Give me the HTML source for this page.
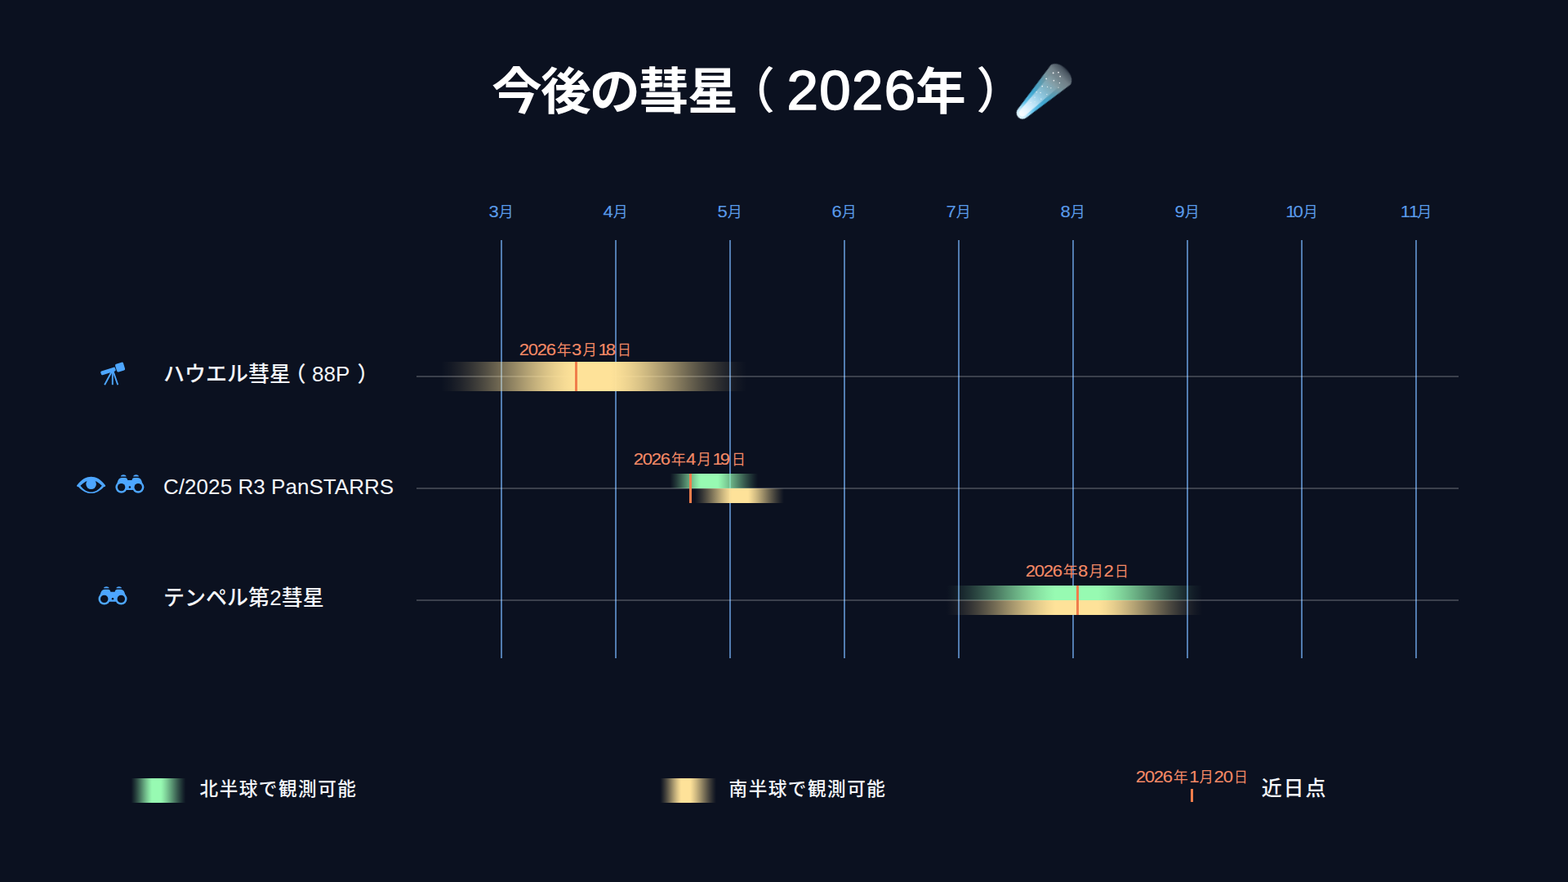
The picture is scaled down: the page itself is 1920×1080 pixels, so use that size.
<!DOCTYPE html>
<html lang="ja"><head><meta charset="utf-8"><title>今後の彗星（2026年）</title>
<style>
html,body{margin:0;padding:0;background:#0b1120}
body{width:1920px;height:1080px;overflow:hidden;font-family:"Liberation Sans","Noto Sans CJK JP",sans-serif}
svg{display:block;position:absolute;left:0;top:0}
text{font-family:"Liberation Sans","Noto Sans CJK JP",sans-serif;white-space:pre}
</style></head>
<body>
<svg width="1920" height="1080" viewBox="0 0 1920 1080">
<defs>
<linearGradient id="b1" gradientUnits="userSpaceOnUse" x1="540" y1="0" x2="914" y2="0"><stop offset="0.0000" stop-color="#fee299" stop-opacity="0.000"/><stop offset="0.0311" stop-color="#fee299" stop-opacity="0.034"/><stop offset="0.0623" stop-color="#fee299" stop-opacity="0.086"/><stop offset="0.0934" stop-color="#fee299" stop-opacity="0.152"/><stop offset="0.1245" stop-color="#fee299" stop-opacity="0.229"/><stop offset="0.1557" stop-color="#fee299" stop-opacity="0.315"/><stop offset="0.1868" stop-color="#fee299" stop-opacity="0.406"/><stop offset="0.2179" stop-color="#fee299" stop-opacity="0.500"/><stop offset="0.2490" stop-color="#fee299" stop-opacity="0.594"/><stop offset="0.2802" stop-color="#fee299" stop-opacity="0.685"/><stop offset="0.3113" stop-color="#fee299" stop-opacity="0.771"/><stop offset="0.3424" stop-color="#fee299" stop-opacity="0.848"/><stop offset="0.3736" stop-color="#fee299" stop-opacity="0.914"/><stop offset="0.4047" stop-color="#fee299" stop-opacity="0.966"/><stop offset="0.4358" stop-color="#fee299" stop-opacity="1.000"/><stop offset="0.5561" stop-color="#fee299" stop-opacity="1.000"/><stop offset="0.5879" stop-color="#fee299" stop-opacity="0.966"/><stop offset="0.6196" stop-color="#fee299" stop-opacity="0.914"/><stop offset="0.6513" stop-color="#fee299" stop-opacity="0.848"/><stop offset="0.6830" stop-color="#fee299" stop-opacity="0.771"/><stop offset="0.7147" stop-color="#fee299" stop-opacity="0.685"/><stop offset="0.7464" stop-color="#fee299" stop-opacity="0.594"/><stop offset="0.7781" stop-color="#fee299" stop-opacity="0.500"/><stop offset="0.8098" stop-color="#fee299" stop-opacity="0.406"/><stop offset="0.8415" stop-color="#fee299" stop-opacity="0.315"/><stop offset="0.8732" stop-color="#fee299" stop-opacity="0.229"/><stop offset="0.9049" stop-color="#fee299" stop-opacity="0.152"/><stop offset="0.9366" stop-color="#fee299" stop-opacity="0.086"/><stop offset="0.9683" stop-color="#fee299" stop-opacity="0.034"/><stop offset="1.0000" stop-color="#fee299" stop-opacity="0.000"/></linearGradient>
<linearGradient id="b2g" gradientUnits="userSpaceOnUse" x1="820.5" y1="0" x2="928" y2="0"><stop offset="0.0000" stop-color="#97fab2" stop-opacity="0.000"/><stop offset="0.0249" stop-color="#97fab2" stop-opacity="0.054"/><stop offset="0.0498" stop-color="#97fab2" stop-opacity="0.117"/><stop offset="0.0748" stop-color="#97fab2" stop-opacity="0.185"/><stop offset="0.0997" stop-color="#97fab2" stop-opacity="0.259"/><stop offset="0.1246" stop-color="#97fab2" stop-opacity="0.337"/><stop offset="0.1495" stop-color="#97fab2" stop-opacity="0.418"/><stop offset="0.1744" stop-color="#97fab2" stop-opacity="0.500"/><stop offset="0.1993" stop-color="#97fab2" stop-opacity="0.582"/><stop offset="0.2243" stop-color="#97fab2" stop-opacity="0.663"/><stop offset="0.2492" stop-color="#97fab2" stop-opacity="0.741"/><stop offset="0.2741" stop-color="#97fab2" stop-opacity="0.815"/><stop offset="0.2990" stop-color="#97fab2" stop-opacity="0.883"/><stop offset="0.3239" stop-color="#97fab2" stop-opacity="0.946"/><stop offset="0.3488" stop-color="#97fab2" stop-opacity="1.000"/><stop offset="0.5442" stop-color="#97fab2" stop-opacity="1.000"/><stop offset="0.5767" stop-color="#97fab2" stop-opacity="0.946"/><stop offset="0.6093" stop-color="#97fab2" stop-opacity="0.883"/><stop offset="0.6419" stop-color="#97fab2" stop-opacity="0.815"/><stop offset="0.6744" stop-color="#97fab2" stop-opacity="0.741"/><stop offset="0.7070" stop-color="#97fab2" stop-opacity="0.663"/><stop offset="0.7395" stop-color="#97fab2" stop-opacity="0.582"/><stop offset="0.7721" stop-color="#97fab2" stop-opacity="0.500"/><stop offset="0.8047" stop-color="#97fab2" stop-opacity="0.418"/><stop offset="0.8372" stop-color="#97fab2" stop-opacity="0.337"/><stop offset="0.8698" stop-color="#97fab2" stop-opacity="0.259"/><stop offset="0.9023" stop-color="#97fab2" stop-opacity="0.185"/><stop offset="0.9349" stop-color="#97fab2" stop-opacity="0.117"/><stop offset="0.9674" stop-color="#97fab2" stop-opacity="0.054"/><stop offset="1.0000" stop-color="#97fab2" stop-opacity="0.000"/></linearGradient>
<linearGradient id="b2y" gradientUnits="userSpaceOnUse" x1="850.5" y1="0" x2="960" y2="0"><stop offset="0.0000" stop-color="#fee299" stop-opacity="0.000"/><stop offset="0.0297" stop-color="#fee299" stop-opacity="0.054"/><stop offset="0.0594" stop-color="#fee299" stop-opacity="0.117"/><stop offset="0.0890" stop-color="#fee299" stop-opacity="0.185"/><stop offset="0.1187" stop-color="#fee299" stop-opacity="0.259"/><stop offset="0.1484" stop-color="#fee299" stop-opacity="0.337"/><stop offset="0.1781" stop-color="#fee299" stop-opacity="0.418"/><stop offset="0.2078" stop-color="#fee299" stop-opacity="0.500"/><stop offset="0.2374" stop-color="#fee299" stop-opacity="0.582"/><stop offset="0.2671" stop-color="#fee299" stop-opacity="0.663"/><stop offset="0.2968" stop-color="#fee299" stop-opacity="0.741"/><stop offset="0.3265" stop-color="#fee299" stop-opacity="0.815"/><stop offset="0.3562" stop-color="#fee299" stop-opacity="0.883"/><stop offset="0.3858" stop-color="#fee299" stop-opacity="0.946"/><stop offset="0.4155" stop-color="#fee299" stop-opacity="1.000"/><stop offset="0.5982" stop-color="#fee299" stop-opacity="1.000"/><stop offset="0.6269" stop-color="#fee299" stop-opacity="0.946"/><stop offset="0.6556" stop-color="#fee299" stop-opacity="0.883"/><stop offset="0.6843" stop-color="#fee299" stop-opacity="0.815"/><stop offset="0.7130" stop-color="#fee299" stop-opacity="0.741"/><stop offset="0.7417" stop-color="#fee299" stop-opacity="0.663"/><stop offset="0.7704" stop-color="#fee299" stop-opacity="0.582"/><stop offset="0.7991" stop-color="#fee299" stop-opacity="0.500"/><stop offset="0.8278" stop-color="#fee299" stop-opacity="0.418"/><stop offset="0.8565" stop-color="#fee299" stop-opacity="0.337"/><stop offset="0.8852" stop-color="#fee299" stop-opacity="0.259"/><stop offset="0.9139" stop-color="#fee299" stop-opacity="0.185"/><stop offset="0.9426" stop-color="#fee299" stop-opacity="0.117"/><stop offset="0.9713" stop-color="#fee299" stop-opacity="0.054"/><stop offset="1.0000" stop-color="#fee299" stop-opacity="0.000"/></linearGradient>
<linearGradient id="b3g" gradientUnits="userSpaceOnUse" x1="1159" y1="0" x2="1472" y2="0"><stop offset="0.0000" stop-color="#97fab2" stop-opacity="0.000"/><stop offset="0.0304" stop-color="#97fab2" stop-opacity="0.040"/><stop offset="0.0607" stop-color="#97fab2" stop-opacity="0.095"/><stop offset="0.0911" stop-color="#97fab2" stop-opacity="0.161"/><stop offset="0.1214" stop-color="#97fab2" stop-opacity="0.238"/><stop offset="0.1518" stop-color="#97fab2" stop-opacity="0.321"/><stop offset="0.1821" stop-color="#97fab2" stop-opacity="0.409"/><stop offset="0.2125" stop-color="#97fab2" stop-opacity="0.500"/><stop offset="0.2428" stop-color="#97fab2" stop-opacity="0.591"/><stop offset="0.2732" stop-color="#97fab2" stop-opacity="0.679"/><stop offset="0.3035" stop-color="#97fab2" stop-opacity="0.762"/><stop offset="0.3339" stop-color="#97fab2" stop-opacity="0.839"/><stop offset="0.3642" stop-color="#97fab2" stop-opacity="0.905"/><stop offset="0.3946" stop-color="#97fab2" stop-opacity="0.960"/><stop offset="0.4249" stop-color="#97fab2" stop-opacity="1.000"/><stop offset="0.5942" stop-color="#97fab2" stop-opacity="1.000"/><stop offset="0.6232" stop-color="#97fab2" stop-opacity="0.960"/><stop offset="0.6522" stop-color="#97fab2" stop-opacity="0.905"/><stop offset="0.6812" stop-color="#97fab2" stop-opacity="0.839"/><stop offset="0.7102" stop-color="#97fab2" stop-opacity="0.762"/><stop offset="0.7392" stop-color="#97fab2" stop-opacity="0.679"/><stop offset="0.7681" stop-color="#97fab2" stop-opacity="0.591"/><stop offset="0.7971" stop-color="#97fab2" stop-opacity="0.500"/><stop offset="0.8261" stop-color="#97fab2" stop-opacity="0.409"/><stop offset="0.8551" stop-color="#97fab2" stop-opacity="0.321"/><stop offset="0.8841" stop-color="#97fab2" stop-opacity="0.238"/><stop offset="0.9131" stop-color="#97fab2" stop-opacity="0.161"/><stop offset="0.9420" stop-color="#97fab2" stop-opacity="0.095"/><stop offset="0.9710" stop-color="#97fab2" stop-opacity="0.040"/><stop offset="1.0000" stop-color="#97fab2" stop-opacity="0.000"/></linearGradient>
<linearGradient id="b3y" gradientUnits="userSpaceOnUse" x1="1159" y1="0" x2="1472" y2="0"><stop offset="0.0000" stop-color="#fee299" stop-opacity="0.000"/><stop offset="0.0304" stop-color="#fee299" stop-opacity="0.040"/><stop offset="0.0607" stop-color="#fee299" stop-opacity="0.095"/><stop offset="0.0911" stop-color="#fee299" stop-opacity="0.161"/><stop offset="0.1214" stop-color="#fee299" stop-opacity="0.238"/><stop offset="0.1518" stop-color="#fee299" stop-opacity="0.321"/><stop offset="0.1821" stop-color="#fee299" stop-opacity="0.409"/><stop offset="0.2125" stop-color="#fee299" stop-opacity="0.500"/><stop offset="0.2428" stop-color="#fee299" stop-opacity="0.591"/><stop offset="0.2732" stop-color="#fee299" stop-opacity="0.679"/><stop offset="0.3035" stop-color="#fee299" stop-opacity="0.762"/><stop offset="0.3339" stop-color="#fee299" stop-opacity="0.839"/><stop offset="0.3642" stop-color="#fee299" stop-opacity="0.905"/><stop offset="0.3946" stop-color="#fee299" stop-opacity="0.960"/><stop offset="0.4249" stop-color="#fee299" stop-opacity="1.000"/><stop offset="0.5942" stop-color="#fee299" stop-opacity="1.000"/><stop offset="0.6232" stop-color="#fee299" stop-opacity="0.960"/><stop offset="0.6522" stop-color="#fee299" stop-opacity="0.905"/><stop offset="0.6812" stop-color="#fee299" stop-opacity="0.839"/><stop offset="0.7102" stop-color="#fee299" stop-opacity="0.762"/><stop offset="0.7392" stop-color="#fee299" stop-opacity="0.679"/><stop offset="0.7681" stop-color="#fee299" stop-opacity="0.591"/><stop offset="0.7971" stop-color="#fee299" stop-opacity="0.500"/><stop offset="0.8261" stop-color="#fee299" stop-opacity="0.409"/><stop offset="0.8551" stop-color="#fee299" stop-opacity="0.321"/><stop offset="0.8841" stop-color="#fee299" stop-opacity="0.238"/><stop offset="0.9131" stop-color="#fee299" stop-opacity="0.161"/><stop offset="0.9420" stop-color="#fee299" stop-opacity="0.095"/><stop offset="0.9710" stop-color="#fee299" stop-opacity="0.040"/><stop offset="1.0000" stop-color="#fee299" stop-opacity="0.000"/></linearGradient>
<linearGradient id="lg" gradientUnits="userSpaceOnUse" x1="160.5" y1="0" x2="227.5" y2="0"><stop offset="0.0000" stop-color="#97fab2" stop-opacity="0.000"/><stop offset="0.0272" stop-color="#97fab2" stop-opacity="0.054"/><stop offset="0.0544" stop-color="#97fab2" stop-opacity="0.117"/><stop offset="0.0816" stop-color="#97fab2" stop-opacity="0.185"/><stop offset="0.1087" stop-color="#97fab2" stop-opacity="0.259"/><stop offset="0.1359" stop-color="#97fab2" stop-opacity="0.337"/><stop offset="0.1631" stop-color="#97fab2" stop-opacity="0.418"/><stop offset="0.1903" stop-color="#97fab2" stop-opacity="0.500"/><stop offset="0.2175" stop-color="#97fab2" stop-opacity="0.582"/><stop offset="0.2447" stop-color="#97fab2" stop-opacity="0.663"/><stop offset="0.2719" stop-color="#97fab2" stop-opacity="0.741"/><stop offset="0.2990" stop-color="#97fab2" stop-opacity="0.815"/><stop offset="0.3262" stop-color="#97fab2" stop-opacity="0.883"/><stop offset="0.3534" stop-color="#97fab2" stop-opacity="0.946"/><stop offset="0.3806" stop-color="#97fab2" stop-opacity="1.000"/><stop offset="0.5448" stop-color="#97fab2" stop-opacity="1.000"/><stop offset="0.5773" stop-color="#97fab2" stop-opacity="0.946"/><stop offset="0.6098" stop-color="#97fab2" stop-opacity="0.883"/><stop offset="0.6423" stop-color="#97fab2" stop-opacity="0.815"/><stop offset="0.6748" stop-color="#97fab2" stop-opacity="0.741"/><stop offset="0.7074" stop-color="#97fab2" stop-opacity="0.663"/><stop offset="0.7399" stop-color="#97fab2" stop-opacity="0.582"/><stop offset="0.7724" stop-color="#97fab2" stop-opacity="0.500"/><stop offset="0.8049" stop-color="#97fab2" stop-opacity="0.418"/><stop offset="0.8374" stop-color="#97fab2" stop-opacity="0.337"/><stop offset="0.8699" stop-color="#97fab2" stop-opacity="0.259"/><stop offset="0.9025" stop-color="#97fab2" stop-opacity="0.185"/><stop offset="0.9350" stop-color="#97fab2" stop-opacity="0.117"/><stop offset="0.9675" stop-color="#97fab2" stop-opacity="0.054"/><stop offset="1.0000" stop-color="#97fab2" stop-opacity="0.000"/></linearGradient>
<linearGradient id="ly" gradientUnits="userSpaceOnUse" x1="808.5" y1="0" x2="877" y2="0"><stop offset="0.0000" stop-color="#fee299" stop-opacity="0.000"/><stop offset="0.0266" stop-color="#fee299" stop-opacity="0.054"/><stop offset="0.0532" stop-color="#fee299" stop-opacity="0.117"/><stop offset="0.0798" stop-color="#fee299" stop-opacity="0.185"/><stop offset="0.1064" stop-color="#fee299" stop-opacity="0.259"/><stop offset="0.1330" stop-color="#fee299" stop-opacity="0.337"/><stop offset="0.1595" stop-color="#fee299" stop-opacity="0.418"/><stop offset="0.1861" stop-color="#fee299" stop-opacity="0.500"/><stop offset="0.2127" stop-color="#fee299" stop-opacity="0.582"/><stop offset="0.2393" stop-color="#fee299" stop-opacity="0.663"/><stop offset="0.2659" stop-color="#fee299" stop-opacity="0.741"/><stop offset="0.2925" stop-color="#fee299" stop-opacity="0.815"/><stop offset="0.3191" stop-color="#fee299" stop-opacity="0.883"/><stop offset="0.3457" stop-color="#fee299" stop-opacity="0.946"/><stop offset="0.3723" stop-color="#fee299" stop-opacity="1.000"/><stop offset="0.5328" stop-color="#fee299" stop-opacity="1.000"/><stop offset="0.5662" stop-color="#fee299" stop-opacity="0.946"/><stop offset="0.5996" stop-color="#fee299" stop-opacity="0.883"/><stop offset="0.6330" stop-color="#fee299" stop-opacity="0.815"/><stop offset="0.6663" stop-color="#fee299" stop-opacity="0.741"/><stop offset="0.6997" stop-color="#fee299" stop-opacity="0.663"/><stop offset="0.7331" stop-color="#fee299" stop-opacity="0.582"/><stop offset="0.7664" stop-color="#fee299" stop-opacity="0.500"/><stop offset="0.7998" stop-color="#fee299" stop-opacity="0.418"/><stop offset="0.8332" stop-color="#fee299" stop-opacity="0.337"/><stop offset="0.8665" stop-color="#fee299" stop-opacity="0.259"/><stop offset="0.8999" stop-color="#fee299" stop-opacity="0.185"/><stop offset="0.9333" stop-color="#fee299" stop-opacity="0.117"/><stop offset="0.9666" stop-color="#fee299" stop-opacity="0.054"/><stop offset="1.0000" stop-color="#fee299" stop-opacity="0.000"/></linearGradient>

<linearGradient id="cmt" gradientUnits="userSpaceOnUse" x1="-8" y1="0" x2="78" y2="0">
<stop offset="0" stop-color="#eaf8ff"/><stop offset="0.10" stop-color="#bfe9fb"/><stop offset="0.22" stop-color="#66c6ee"/>
<stop offset="0.40" stop-color="#46a9d0"/><stop offset="0.56" stop-color="#5f9db0"/>
<stop offset="0.70" stop-color="#7a949c"/><stop offset="0.84" stop-color="#76858d" stop-opacity="0.95"/><stop offset="0.94" stop-color="#5a6772" stop-opacity="0.8"/><stop offset="1" stop-color="#3a4552" stop-opacity="0.3"/>
</linearGradient>
<linearGradient id="cmt2" gradientUnits="userSpaceOnUse" x1="-6" y1="0" x2="60" y2="0">
<stop offset="0" stop-color="#ffffff" stop-opacity="1"/><stop offset="0.3" stop-color="#e6f4ff" stop-opacity="0.8"/>
<stop offset="0.7" stop-color="#cfe6f5" stop-opacity="0.3"/><stop offset="1" stop-color="#cfe6f5" stop-opacity="0"/>
</linearGradient>
<linearGradient id="cmt3" gradientUnits="userSpaceOnUse" x1="0" y1="-18" x2="0" y2="18">
<stop offset="0" stop-color="#1fa0dc" stop-opacity="0.6"/><stop offset="0.32" stop-color="#1fa0dc" stop-opacity="0"/>
<stop offset="0.68" stop-color="#1fa0dc" stop-opacity="0"/><stop offset="1" stop-color="#1fa0dc" stop-opacity="0.6"/>
</linearGradient>
<linearGradient id="cmf" gradientUnits="userSpaceOnUse" x1="-8" y1="0" x2="78" y2="0">
<stop offset="0" stop-color="#fff"/><stop offset="0.45" stop-color="#fff"/><stop offset="0.75" stop-color="#000"/><stop offset="1" stop-color="#000"/>
</linearGradient>
<mask id="cmm" maskUnits="userSpaceOnUse" x="-12" y="-24" width="100" height="48"><rect x="-12" y="-24" width="100" height="48" fill="url(#cmf)"/></mask>
<filter id="cblur" x="-20%" y="-20%" width="140%" height="140%"><feGaussianBlur stdDeviation="0.6"/></filter>

</defs>
<rect width="1920" height="1080" fill="#0b1120"/>
<g id="grid">
<rect x="613" y="294" width="2" height="512" fill="#527cb0"/>
<rect x="753" y="294" width="2" height="512" fill="#527cb0"/>
<rect x="893" y="294" width="2" height="512" fill="#527cb0"/>
<rect x="1033" y="294" width="2" height="512" fill="#527cb0"/>
<rect x="1173" y="294" width="2" height="512" fill="#527cb0"/>
<rect x="1313" y="294" width="2" height="512" fill="#527cb0"/>
<rect x="1453" y="294" width="2" height="512" fill="#527cb0"/>
<rect x="1593" y="294" width="2" height="512" fill="#527cb0"/>
<rect x="1733" y="294" width="2" height="512" fill="#527cb0"/>
<rect x="510" y="460" width="1276" height="2" fill="#fff" fill-opacity="0.2"/>
<rect x="510" y="597" width="1276" height="2" fill="#fff" fill-opacity="0.2"/>
<rect x="510" y="734" width="1276" height="2" fill="#fff" fill-opacity="0.2"/>
</g>
<g id="bars">
<rect x="540" y="443" width="374" height="36" fill="url(#b1)"/>
<rect x="820.5" y="580" width="107.5" height="18" fill="url(#b2g)"/>
<rect x="850.5" y="598" width="109.5" height="18" fill="url(#b2y)"/>
<rect x="1159" y="717" width="313" height="18" fill="url(#b3g)"/>
<rect x="1159" y="735" width="313" height="18" fill="url(#b3y)"/>
</g>
<g id="peri" fill="#f07d4b">
<rect x="704" y="443" width="3" height="36"/>
<rect x="844" y="580" width="3" height="36"/>
<rect x="1318" y="717" width="3" height="36"/>
</g>
<text x="602.10" y="133.88" font-size="61.8" font-weight="700" letter-spacing="-1.8" fill="#ffffff">今後の彗星</text>
<text x="889.03" y="133.20" font-size="60" font-weight="500" fill="#ffffff">（</text>
<text x="963.50" y="133.90" font-size="69.00" fill="#ffffff" stroke="#ffffff" stroke-width="1.70" stroke-linejoin="round" letter-spacing="1.40">2026</text>
<text x="1120.90" y="133.88" font-size="61.8" font-weight="700" fill="#ffffff">年</text>
<text x="1195.27" y="133.20" font-size="60" font-weight="500" fill="#ffffff">）</text>
<text transform="translate(598.60 265.60) scale(1.1000 1)" x="0.00" font-size="20.00" fill="#5a9bea" stroke="#5a9bea" stroke-width="0.12" stroke-linejoin="round">3</text>
<text x="610.68" y="265.60" font-size="18" fill="#5a9bea">月</text>
<text transform="translate(738.60 265.60) scale(1.1000 1)" x="0.00" font-size="20.00" fill="#5a9bea" stroke="#5a9bea" stroke-width="0.12" stroke-linejoin="round">4</text>
<text x="750.68" y="265.60" font-size="18" fill="#5a9bea">月</text>
<text transform="translate(878.55 265.60) scale(1.1000 1)" x="0.00" font-size="20.00" fill="#5a9bea" stroke="#5a9bea" stroke-width="0.12" stroke-linejoin="round">5</text>
<text x="890.68" y="265.60" font-size="18" fill="#5a9bea">月</text>
<text transform="translate(1018.46 265.60) scale(1.1000 1)" x="0.00" font-size="20.00" fill="#5a9bea" stroke="#5a9bea" stroke-width="0.12" stroke-linejoin="round">6</text>
<text x="1030.68" y="265.60" font-size="18" fill="#5a9bea">月</text>
<text transform="translate(1158.52 265.60) scale(1.1000 1)" x="0.00" font-size="20.00" fill="#5a9bea" stroke="#5a9bea" stroke-width="0.12" stroke-linejoin="round">7</text>
<text x="1170.68" y="265.60" font-size="18" fill="#5a9bea">月</text>
<text transform="translate(1298.53 265.60) scale(1.1000 1)" x="0.00" font-size="20.00" fill="#5a9bea" stroke="#5a9bea" stroke-width="0.12" stroke-linejoin="round">8</text>
<text x="1310.68" y="265.60" font-size="18" fill="#5a9bea">月</text>
<text transform="translate(1438.54 265.60) scale(1.1000 1)" x="0.00" font-size="20.00" fill="#5a9bea" stroke="#5a9bea" stroke-width="0.12" stroke-linejoin="round">9</text>
<text x="1450.68" y="265.60" font-size="18" fill="#5a9bea">月</text>
<text transform="translate(1574.32 265.60) scale(1.1000 1)" x="0.00 8.42" font-size="20.00" fill="#5a9bea" stroke="#5a9bea" stroke-width="0.12" stroke-linejoin="round">10</text>
<text x="1595.73" y="265.60" font-size="18" fill="#5a9bea">月</text>
<text transform="translate(1714.80 265.60) scale(1.1000 1)" x="0.00 9.18" font-size="20.00" fill="#5a9bea" stroke="#5a9bea" stroke-width="0.12" stroke-linejoin="round">11</text>
<text x="1735.25" y="265.60" font-size="18" fill="#5a9bea">月</text>
<text transform="translate(635.72 434.60) scale(1.1000 1)" x="0.00 10.06 20.13 30.12" font-size="20.00" fill="#f58a66" stroke="#f58a66" stroke-width="0.12" stroke-linejoin="round">2026</text>
<text x="681.87" y="434.60" font-size="18" fill="#f58a66">年</text>
<text transform="translate(700.05 434.60) scale(1.1000 1)" x="0.00" font-size="20.00" fill="#f58a66" stroke="#f58a66" stroke-width="0.12" stroke-linejoin="round">3</text>
<text transform="translate(713.52 434.60) scale(0.96 1)" x="0" y="0" font-size="18" fill="#f58a66">月</text>
<text transform="translate(732.45 434.60) scale(1.1000 1)" x="0.00 8.42" font-size="20.00" fill="#f58a66" stroke="#f58a66" stroke-width="0.12" stroke-linejoin="round">18</text>
<text transform="translate(756.01 434.60) scale(0.93 1)" x="0" y="0" font-size="18" fill="#f58a66">日</text>
<text transform="translate(775.72 568.60) scale(1.1000 1)" x="0.00 10.06 20.13 30.12" font-size="20.00" fill="#f58a66" stroke="#f58a66" stroke-width="0.12" stroke-linejoin="round">2026</text>
<text x="821.87" y="568.60" font-size="18" fill="#f58a66">年</text>
<text transform="translate(840.05 568.60) scale(1.1000 1)" x="0.00" font-size="20.00" fill="#f58a66" stroke="#f58a66" stroke-width="0.12" stroke-linejoin="round">4</text>
<text transform="translate(853.52 568.60) scale(0.96 1)" x="0" y="0" font-size="18" fill="#f58a66">月</text>
<text transform="translate(872.45 568.60) scale(1.1000 1)" x="0.00 8.43" font-size="20.00" fill="#f58a66" stroke="#f58a66" stroke-width="0.12" stroke-linejoin="round">19</text>
<text transform="translate(896.01 568.60) scale(0.93 1)" x="0" y="0" font-size="18" fill="#f58a66">日</text>
<text transform="translate(1255.72 706.00) scale(1.1000 1)" x="0.00 10.06 20.13 30.12" font-size="20.00" fill="#f58a66" stroke="#f58a66" stroke-width="0.12" stroke-linejoin="round">2026</text>
<text x="1301.87" y="706.00" font-size="18" fill="#f58a66">年</text>
<text transform="translate(1319.98 706.00) scale(1.1000 1)" x="0.00" font-size="20.00" fill="#f58a66" stroke="#f58a66" stroke-width="0.12" stroke-linejoin="round">8</text>
<text transform="translate(1333.52 706.00) scale(0.96 1)" x="0" y="0" font-size="18" fill="#f58a66">月</text>
<text transform="translate(1351.62 706.00) scale(1.1000 1)" x="0.00" font-size="20.00" fill="#f58a66" stroke="#f58a66" stroke-width="0.12" stroke-linejoin="round">2</text>
<text transform="translate(1365.11 706.00) scale(0.93 1)" x="0" y="0" font-size="18" fill="#f58a66">日</text>
<text transform="translate(1390.72 957.90) scale(1.1000 1)" x="0.00 10.06 20.13 30.12" font-size="20.00" fill="#f58a66" stroke="#f58a66" stroke-width="0.12" stroke-linejoin="round">2026</text>
<text x="1436.87" y="957.90" font-size="18" fill="#f58a66">年</text>
<text transform="translate(1456.30 957.90) scale(1.1000 1)" x="0.00" font-size="20.00" fill="#f58a66" stroke="#f58a66" stroke-width="0.12" stroke-linejoin="round">1</text>
<text transform="translate(1468.52 957.90) scale(0.96 1)" x="0" y="0" font-size="18" fill="#f58a66">月</text>
<text transform="translate(1486.62 957.90) scale(1.1000 1)" x="0.00 10.06" font-size="20.00" fill="#f58a66" stroke="#f58a66" stroke-width="0.12" stroke-linejoin="round">20</text>
<text transform="translate(1511.01 957.90) scale(0.93 1)" x="0" y="0" font-size="18" fill="#f58a66">日</text>
<text x="200.00" y="466.90" font-size="26" font-weight="500" fill="#f4f6fa">ハウエル彗星</text>
<text x="348.46" y="466.90" font-size="26" font-weight="500" fill="#f4f6fa">（</text>
<text x="382.00" y="467.00" font-size="26.00" fill="#f4f6fa">88P</text>
<text x="437.44" y="466.90" font-size="26" font-weight="500" fill="#f4f6fa">）</text>
<text x="200.00" y="604.60" font-size="26.00" fill="#f4f6fa" letter-spacing="0.05">C/2025 R3 PanSTARRS</text>
<text x="200.00" y="740.90" font-size="26" font-weight="500" fill="#f4f6fa">テンペル第</text>
<text x="330.30" y="741.00" font-size="26.00" fill="#f4f6fa">2</text>
<text x="344.76" y="740.90" font-size="26" font-weight="500" fill="#f4f6fa">彗星</text>
<rect x="160.5" y="953" width="67" height="30" fill="url(#lg)"/>
<rect x="808.5" y="953" width="68.5" height="30" fill="url(#ly)"/>
<text x="244.60" y="974.10" font-size="22.6" font-weight="500" letter-spacing="1.5" fill="#f4f6fa">北半球で観測可能</text>
<text x="892.60" y="974.10" font-size="22.6" font-weight="500" letter-spacing="1.5" fill="#f4f6fa">南半球で観測可能</text>
<rect x="1458" y="966" width="3" height="16" fill="#f07d4b"/>
<text x="1544.80" y="974.30" font-size="25" font-weight="500" letter-spacing="1.8" fill="#f4f6fa">近日点</text>
<g fill="#4da6ff" stroke="none" transform="translate(138.00 456.80)"><g transform="translate(-1.2 -3.2) rotate(-17.5 0 -3)"><rect x="-14.6" y="-3.1" width="18.6" height="5" rx="1.4"/><rect x="4.9" y="-6.0" width="10.4" height="10.2" rx="1.8"/></g><g stroke="#4da6ff" stroke-width="1.9" stroke-linecap="butt" fill="none"><path d="M-0.8 -2.6 L-9.9 14.4"/><path d="M-0.2 -2 L-0.2 14.4"/><path d="M0.4 -2.6 L6.3 14.4"/></g></g>
<g transform="translate(111.60 594.00)"><path fill="#4da6ff" d="M-17.6 0.5 C-11.5 -7.6 -5.6 -10.3 0 -10.3 C5.6 -10.3 11.5 -7.6 17.6 0.5 L17.0 2.0 L15.4 2.2 C10.5 7.6 5.4 10.1 0 10.1 C-5.4 10.1 -10.5 7.6 -15.4 2.2 L-17.0 2.0Z"/><path fill="#0b1120" d="M-13.2 0.8 C-9 -3.4 -4.6 -5.9 0 -5.9 C4.6 -5.9 9 -3.4 13.2 0.8 C9 6.1 4.6 8.6 0 8.6 C-4.6 8.6 -9 6.1 -13.2 0.8Z"/><circle cx="0" cy="-1.3" r="6.3" fill="#4da6ff"/></g>
<g transform="translate(158.90 596.60)"><path fill="#4da6ff" d="M-15.6 -1 C-15.6 -8 -13.5 -11.6 -9.8 -11.6 L-5.6 -11.6 C-3.8 -11.6 -3.0 -10.4 -2.6 -8.6 L2.6 -8.6 C3.0 -10.4 3.8 -11.6 5.6 -11.6 L9.8 -11.6 C13.5 -11.6 15.6 -8 15.6 -1 L15.6 1 L3.2 3.4 L-3.2 3.4 L-15.6 1Z"/><path fill="#4da6ff" d="M-11.2 -13.2 C-10.4 -15.9 -5.0 -15.9 -4.2 -13.2Z M4.2 -13.2 C5.0 -15.9 10.4 -15.9 11.2 -13.2Z"/><circle cx="-10.3" cy="0" r="7.2" fill="#4da6ff"/><circle cx="10.3" cy="0" r="7.2" fill="#4da6ff"/><circle cx="-10.3" cy="0" r="4.7" fill="#0b1120"/><circle cx="10.3" cy="0" r="4.7" fill="#0b1120"/><circle cx="0" cy="-0.2" r="1.25" fill="#0b1120"/></g>
<g transform="translate(138.00 733.40)"><path fill="#4da6ff" d="M-15.6 -1 C-15.6 -8 -13.5 -11.6 -9.8 -11.6 L-5.6 -11.6 C-3.8 -11.6 -3.0 -10.4 -2.6 -8.6 L2.6 -8.6 C3.0 -10.4 3.8 -11.6 5.6 -11.6 L9.8 -11.6 C13.5 -11.6 15.6 -8 15.6 -1 L15.6 1 L3.2 3.4 L-3.2 3.4 L-15.6 1Z"/><path fill="#4da6ff" d="M-11.2 -13.2 C-10.4 -15.9 -5.0 -15.9 -4.2 -13.2Z M4.2 -13.2 C5.0 -15.9 10.4 -15.9 11.2 -13.2Z"/><circle cx="-10.3" cy="0" r="7.2" fill="#4da6ff"/><circle cx="10.3" cy="0" r="7.2" fill="#4da6ff"/><circle cx="-10.3" cy="0" r="4.7" fill="#0b1120"/><circle cx="10.3" cy="0" r="4.7" fill="#0b1120"/><circle cx="0" cy="-0.2" r="1.25" fill="#0b1120"/></g>
<g transform="translate(1252.2 138.2) rotate(-45)"><g filter="url(#cblur)"><path d="M0 7.60 A7.60 7.60 0 0 1 0 -7.60 L66.00 -17.00 C79.00 -14.00 79.00 14.00 66.00 17.00 Z" fill="url(#cmt)"/><path d="M0 7.60 A7.60 7.60 0 0 1 0 -7.60 L66.00 -17.00 C79.00 -14.00 79.00 14.00 66.00 17.00 Z" fill="url(#cmt3)" mask="url(#cmm)"/><path d="M0 4.6 A4.6 4.6 0 0 1 0 -4.6 L56 -9 C60 -4 60 4 56 9Z" fill="url(#cmt2)"/></g><circle cx="33.0" cy="-2.0" r="0.70" fill="#fff" fill-opacity="0.85"/><circle cx="40.0" cy="-6.0" r="0.80" fill="#fff" fill-opacity="0.85"/><circle cx="46.0" cy="3.0" r="0.60" fill="#fff" fill-opacity="0.85"/><circle cx="50.0" cy="-9.0" r="0.90" fill="#fff" fill-opacity="0.85"/><circle cx="55.0" cy="-1.0" r="0.80" fill="#fff" fill-opacity="0.85"/><circle cx="58.0" cy="6.0" r="0.70" fill="#fff" fill-opacity="0.85"/><circle cx="61.0" cy="-8.0" r="1.00" fill="#fff" fill-opacity="0.85"/><circle cx="64.0" cy="1.0" r="0.90" fill="#fff" fill-opacity="0.85"/><circle cx="66.0" cy="-4.0" r="0.90" fill="#fff" fill-opacity="0.85"/><circle cx="28.0" cy="4.0" r="0.60" fill="#fff" fill-opacity="0.85"/><circle cx="24.0" cy="-3.0" r="0.60" fill="#fff" fill-opacity="0.85"/><circle cx="37.0" cy="5.0" r="0.60" fill="#fff" fill-opacity="0.85"/><circle cx="44.0" cy="-1.0" r="0.60" fill="#fff" fill-opacity="0.85"/><circle cx="53.0" cy="9.0" r="0.60" fill="#fff" fill-opacity="0.85"/><circle cx="20.0" cy="1.0" r="0.50" fill="#fff" fill-opacity="0.85"/><circle cx="30.0" cy="-6.0" r="0.60" fill="#fff" fill-opacity="0.85"/><circle cx="16.0" cy="-2.0" r="0.50" fill="#fff" fill-opacity="0.85"/></g>
</svg>
</body></html>
